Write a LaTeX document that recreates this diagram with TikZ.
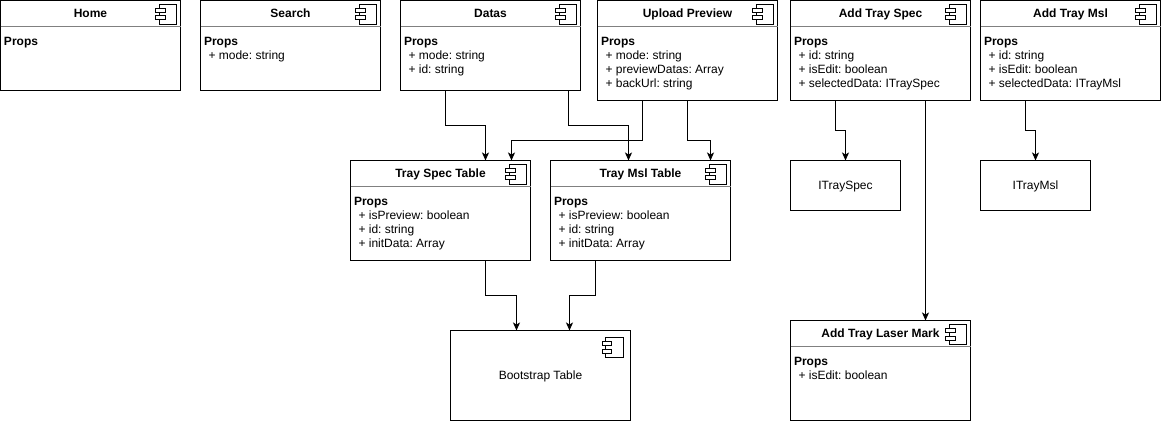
\documentclass[tikz,border=0pt]{standalone}
\usepackage{fontspec}
\setmainfont{Liberation Sans}
\usetikzlibrary{arrows.meta}
\frenchspacing
\tikzset{
    comp/.style={rectangle, draw, anchor=north west, minimum width = 180pt,
                minimum height = 100pt, inner sep = 0, outer sep = 0},
    plain/.style={comp, minimum width = 110pt, minimum height = 50pt},
    titlestyle/.style={anchor=base, inner sep = 0, font=\fontsize{12}{14}\selectfont\bfseries},
    headstyle/.style={anchor=base west, inner sep = 0, font=\fontsize{12}{14}\selectfont\bfseries},
    propstyle/.style={anchor=base west, inner sep = 0, font=\fontsize{12}{14}\selectfont},
    labelstyle/.style={anchor=center, inner sep = 0, yshift=-1pt, font=\fontsize{12}{14}\selectfont},
    flow/.style={draw, line width = 1pt, -{Stealth[length=8pt,width=7pt,inset=2pt]}},
}
\newcommand{\compIcon}[1]{%
    \draw ([shift={(-21,-4)}]#1.north east) rectangle ++(17,-20);
    \draw[fill=white] ([shift={(-25,-8)}]#1.north east) rectangle ++(10,-4);
    \draw[fill=white] ([shift={(-25,-15.5)}]#1.north east) rectangle ++(10,-4);
}
\newcommand{\header}[2]{%
    \node[titlestyle] (#1Title) at ([yshift=-17]#1.north) {#2};
    \draw[gray] ([yshift=-26]#1.north west) -- ([yshift=-26]#1.north east);
    \compIcon{#1}
    \node[headstyle] (#1Head) at ([shift={(3,-45)}]#1.north west) {Props};
}
\newcommand{\props}[2]{%
    \foreach \txt [count=\i] in {#2} {
        \node[propstyle] (#1Prop\i) at ([shift={(7.5,-45-14*\i)}]#1.north west) {+ \txt};
    }
}
\begin{document}
\begin{tikzpicture}[x=1pt, y=1pt, line width=1pt]
    \useasboundingbox (0,0) rectangle (1161,-422);
    %
    % Top line
    \node[comp, minimum height = 90pt] (Home) at (0.5,-0.5) {};
    \header{Home}{Home}
    \node[comp, minimum height = 90pt] (Search) at (200.5,-0.5) {};
    \header{Search}{Search}
    \props{Search}{mode: string}
    \node[comp, minimum height = 90pt] (Datas) at (400.5,-0.5) {};
    \header{Datas}{Datas}
    \props{Datas}{mode: string, id: string}
    \node[comp] (Upload) at (597.5,-0.5) {};
    \header{Upload}{Upload Preview}
    \props{Upload}{mode: string, previewDatas: Array, backUrl: string}
    \node[comp] (AddSpec) at (790.5,-0.5) {};
    \header{AddSpec}{Add Tray Spec}
    \props{AddSpec}{id: string, isEdit: boolean, selectedData: ITraySpec}
    \node[comp] (AddMsl) at (980.5,-0.5) {};
    \header{AddMsl}{Add Tray Msl}
    \props{AddMsl}{id: string, isEdit: boolean, selectedData: ITrayMsl}
    %
    % Second line
    \node[comp] (SpecTable) at (350.5,-160.5) {};
    \header{SpecTable}{Tray Spec Table}
    \props{SpecTable}{isPreview: boolean, id: string, initData: Array}
    \node[comp] (MslTable) at (550.5,-160.5) {};
    \header{MslTable}{Tray Msl Table}
    \props{MslTable}{isPreview: boolean, id: string, initData: Array}
    \node[plain] (ISpec) at (790.5,-160.5) {};
    \node[labelstyle] (ISpecText) at (ISpec.center) {ITraySpec};
    \node[plain] (IMsl) at (980.5,-160.5) {};
    \node[labelstyle] (IMslText) at (IMsl.center) {ITrayMsl};
    %
    % Third line
    \node[comp, minimum height = 90pt] (Bootstrap) at (450.5,-330.5) {};
    \node[labelstyle] (BootstrapText) at (Bootstrap.center) {Bootstrap Table};
    \draw ([shift={(-25,-7)}]Bootstrap.north east) rectangle ++(18,-20);
    \draw[fill=white] ([shift={(-28,-11)}]Bootstrap.north east) rectangle ++(9,-4);
    \draw[fill=white] ([shift={(-28,-19)}]Bootstrap.north east) rectangle ++(9,-4);
    \node[comp] (AddLaser) at (790.5,-320.5) {};
    \header{AddLaser}{Add Tray Laser Mark}
    \props{AddLaser}{isEdit: boolean}
    %
    % Connectors
    \draw[flow] (Datas.south -| 445.5,0) -- ++(0,-35) -| (SpecTable.north -| 485.5,0);
    \draw[flow] (Datas.south -| 568.5,0) -- ++(0,-35) -| (MslTable.north -| 628.5,0);
    \draw[flow] (Upload.south -| 642.5,0) -- ++(0,-40) -| (SpecTable.north -| 511.5,0);
    \draw[flow] (Upload.south -| 687.5,0) -- ++(0,-40) -| (MslTable.north -| 710.5,0);
    \draw[flow] (SpecTable.south -| 485.5,0) -- ++(0,-35) -| (Bootstrap.north -| 516.5,0);
    \draw[flow] (MslTable.south -| 595.5,0) -- ++(0,-35) -| (Bootstrap.north -| 569.5,0);
    \draw[flow] (AddSpec.south -| 835.5,0) -- ++(0,-30) -| (ISpec.north -| 845.5,0);
    \draw[flow] (AddSpec.south -| 925.5,0) -- (AddLaser.north -| 925.5,0);
    \draw[flow] (AddMsl.south -| 1025.5,0) -- ++(0,-30) -| (IMsl.north -| 1035.5,0);
\end{tikzpicture}
\end{document}
